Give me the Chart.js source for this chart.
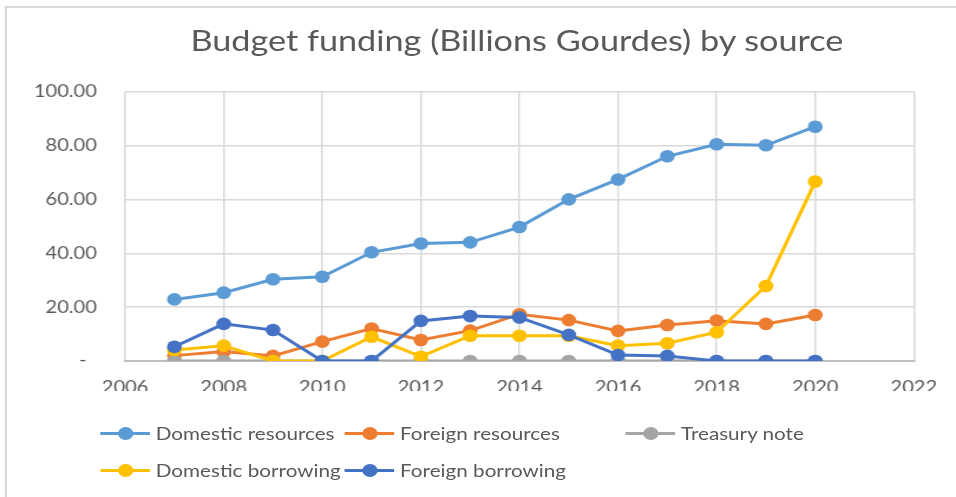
<!DOCTYPE html>
<html>
<head>
<meta charset="utf-8">
<script src="https://cdn.jsdelivr.net/npm/chart.js@4"></script>
<style>
    html, body { margin: 0; padding: 0; background: #fff; overflow: hidden; }
    /* the whole figure is laid out at 810px and widened to 956px */
    #wrap { position: relative; width: 810px; height: 497px; transform: scaleX(1.1802); transform-origin: 0 0; }
    #frame { position: absolute; left: 4px; top: 6px; width: 1000px; height: 600px; border: 2px solid #d9d9d9; border-right: none; border-bottom: none; box-sizing: border-box; }
    #title { position: absolute; left: 0; width: 876px; top: 22px; text-align: center; font-family: Lato, sans-serif; font-size: 29px; color: #595959; }
    #chart { position: absolute; left: 0; top: 0; }
    #legend { position: absolute; left: 0; top: 0; font-family: Lato, sans-serif; font-size: 17.5px; color: #595959; }
    .item { position: absolute; height: 24px; display: flex; align-items: center; white-space: nowrap; }
    .swatch { position: relative; width: 42px; height: 24px; margin-right: 5px; }
    .swatch .ln { position: absolute; left: 0; right: 0; top: 10.5px; height: 3px; }
    .swatch .dot { position: absolute; left: 14.5px; top: 5.5px; width: 13px; height: 13px; border-radius: 50%; }
</style>
</head>
<body>
<div id="wrap">
    <div id="frame"></div>
    <canvas id="chart" width="810" height="497"></canvas>
    <div id="title">Budget funding (Billions Gourdes) by source</div>
    <div id="legend"></div>
</div>
<script>
const years = [2007, 2008, 2009, 2010, 2011, 2012, 2013, 2014, 2015, 2016, 2017, 2018, 2019, 2020];
const domesticResources = [22.9, 25.4, 30.4, 31.3, 40.4, 43.7, 44.1, 49.8, 60.1, 67.5, 76.1, 80.6, 80.2, 87.1];
const foreignResources = [2.0, 3.5, 1.9, 7.2, 12.1, 7.8, 11.3, 17.4, 15.2, 11.2, 13.4, 15.0, 13.8, 17.1];
const treasuryNote = [0, 0, 0, 0, 0, 0, 0, 0, 0, 0, 0, 0, 0, 0];
const domesticBorrowing = [4.1, 5.7, 0, 0, 9.0, 1.6, 9.4, 9.4, 9.4, 5.7, 6.6, 10.7, 27.9, 66.7];
const foreignBorrowing = [5.3, 13.8, 11.5, 0, 0, 14.9, 16.7, 16.2, 9.7, 2.2, 1.9, 0, 0, 0];

const seriesNames = ["Domestic resources", "Foreign resources", "Treasury note", "Domestic borrowing", "Foreign borrowing"];
const seriesValues = [domesticResources, foreignResources, treasuryNote, domesticBorrowing, foreignBorrowing];
const colors = ["#5b9bd5", "#ed7d31", "#a5a5a5", "#ffc000", "#4472c4"];

// legend slots: [left, center y] for each series, Excel-like grid
const legendSlots = [[85, 433], [292, 433], [530, 433], [85, 470], [292, 470]];

const datasets = seriesNames.map((name, i) => ({
    label: name,
    data: years.map((y, j) => ({ x: y, y: seriesValues[i][j] })),
    borderColor: colors[i],
    backgroundColor: colors[i],
    borderWidth: 3,
    pointRadius: 6.3,
    pointHoverRadius: 6.3,
    pointBorderWidth: 0,
    tension: 0,
    fill: false,
    order: seriesNames.length - i, // later series drawn on top
}));

const gridColor = "#d9d9d9";
const tickFont = { family: "Lato, sans-serif", size: 17 };

new Chart(document.getElementById("chart"), {
    type: "line",
    data: { datasets },
    options: {
        responsive: false,
        animation: false,
        devicePixelRatio: 1,
        layout: { padding: { top: 92, left: 0, right: 35, bottom: 106 } },
        plugins: { legend: { display: false }, tooltip: { enabled: false } },
        scales: {
            x: {
                type: "linear",
                min: 2006,
                max: 2022,
                afterFit: (s) => { s.height = 30; },
                ticks: { stepSize: 2, padding: 16, color: "#595959", font: tickFont, callback: (v) => String(v) },
                grid: { color: gridColor, lineWidth: 1.5, drawTicks: false },
                border: { color: "#bfbfbf", width: 2 },
            },
            y: {
                min: 0,
                max: 100,
                afterFit: (s) => { s.width = 106; },
                ticks: {
                    stepSize: 20,
                    padding: 24,
                    color: "#595959",
                    font: tickFont,
                    callback: (v) => (v === 0 ? "-  " : v.toFixed(2)),
                },
                grid: { color: gridColor, lineWidth: 1.5, drawTicks: false },
                border: { display: false },
            },
        },
    },
});

const legend = document.getElementById("legend");
seriesNames.forEach((name, i) => {
    const item = document.createElement("div");
    item.className = "item";
    item.style.left = legendSlots[i][0] + "px";
    item.style.top = (legendSlots[i][1] - 12) + "px";
    item.innerHTML = `<span class="swatch"><span class="ln" style="background:${colors[i]}"></span><span class="dot" style="background:${colors[i]}"></span></span>${name}`;
    legend.appendChild(item);
});
</script>
</body>
</html>
